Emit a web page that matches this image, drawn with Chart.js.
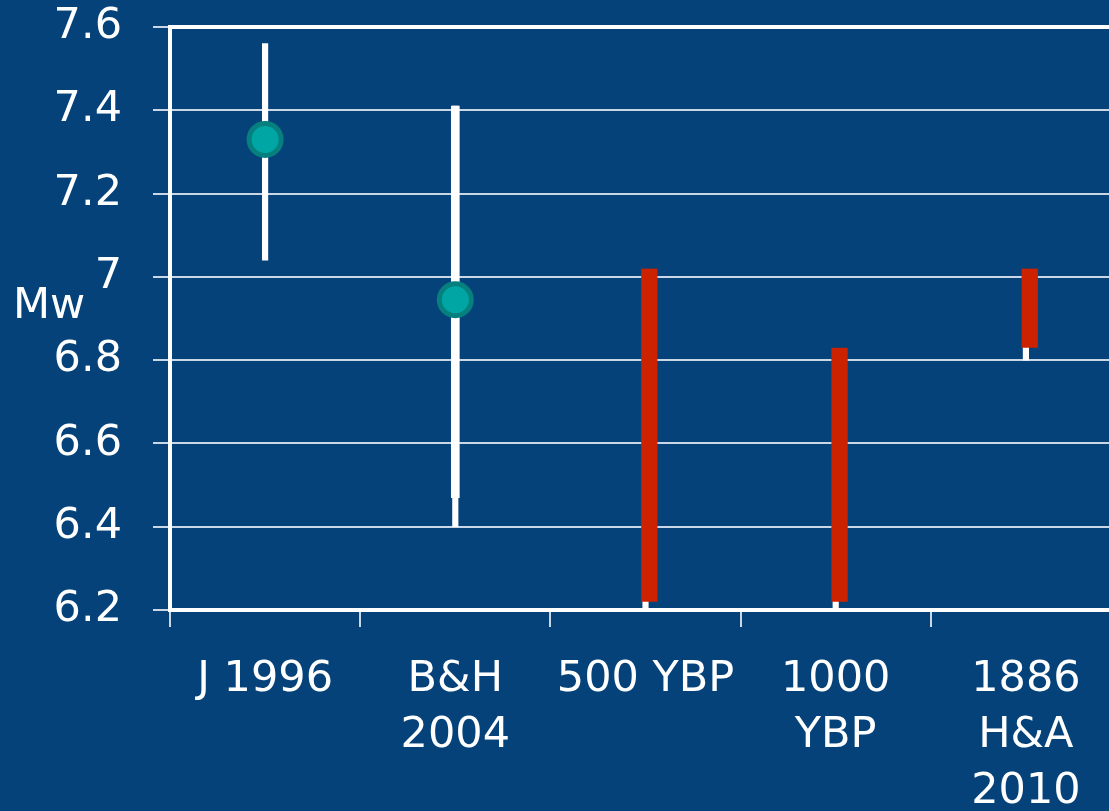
<!DOCTYPE html>
<html>
<head>
<meta charset="utf-8">
<script src="https://cdn.jsdelivr.net/npm/chart.js@4.4.1/dist/chart.umd.min.js"></script>
<style>
  html, body { margin: 0; padding: 0; background: #044279; overflow: hidden; }
  #wrap { position: relative; width: 1109px; height: 811px; overflow: hidden; }
  #mwChart { position: absolute; left: 0; top: 0; }
  #mwLabel {
    position: absolute; left: 13px; top: 282px;
    font-family: "DejaVu Sans", sans-serif; font-size: 43px; line-height: 43px;
    color: #ffffff;
  }
</style>
</head>
<body>
<div id="wrap">
  <canvas id="mwChart" width="1121" height="811"></canvas>
  <div id="mwLabel">Mw</div>
</div>
<script>
// magnitude estimates per study / event
const categories = [["J 1996"], ["B&H", "2004"], ["500 YBP"], ["1000", "YBP"], ["1886", "H&A", "2010"]];
const bestEstimate = [7.33, 6.945, null, null, null];
// thin white error bars (low, high)
const rangeThin = [[7.04, 7.56], [6.40, 7.41], [6.20, 7.00], [6.20, 6.80], [6.80, 7.00]];
// thicker white part of the B&H range
const rangeThick = [null, [6.47, 7.41], null, null, null];
// red paleo ranges
const paleoRange = [null, null, [6.22, 7.02], [6.22, 6.83], [6.83, 7.02]];
const yMin = 6.2;
const yMax = 7.6;
const yStep = 0.2;

const ctx = document.getElementById("mwChart").getContext('2d');
const gridColor = "#c9d7e6";
const fontFamily = "'DejaVu Sans', sans-serif";

// white frame line on top of the plot area
const topLine = {
  id: "topLine",
  afterDraw(chart) {
    const a = chart.chartArea;
    const c = chart.ctx;
    c.save();
    c.strokeStyle = "#ffffff";
    c.lineWidth = 4;
    c.beginPath();
    c.moveTo(a.left - 2, a.top);
    c.lineTo(a.right, a.top);
    c.stroke();
    c.restore();
  }
};

const chartData = {
  labels: categories,
  datasets: [
    {
      type: "line",
      label: "estimate",
      data: bestEstimate,
      showLine: false,
      pointRadius: 16,
      pointBorderWidth: 5,
      pointBackgroundColor: "#00a6a4",
      pointBorderColor: "#05807f",
      order: 0,
    },
    {
      type: "bar",
      label: "paleo",
      data: paleoRange,
      backgroundColor: "#cc2200",
      // transparent left border shifts the red bar a bit to the right
      borderColor: "rgba(0,0,0,0)",
      borderWidth: { left: 8, right: 0, top: 0, bottom: 0 },
      borderSkipped: false,
      barThickness: 24,
      grouped: false,
      order: 1,
    },
    {
      type: "bar",
      label: "thick",
      data: rangeThick,
      backgroundColor: "#ffffff",
      barThickness: 8,
      grouped: false,
      order: 2,
    },
    {
      type: "bar",
      label: "thin",
      data: rangeThin,
      backgroundColor: "#ffffff",
      barThickness: 5.5,
      grouped: false,
      order: 3,
    },
  ],
};

const chartConfig = {
  data: chartData,
  plugins: [topLine],
  options: {
    responsive: false,
    animation: false,
    devicePixelRatio: 1,
    layout: { autoPadding: false, padding: { top: 27, left: 0, right: 0, bottom: 0 } },
    plugins: {
      legend: { display: false },
      tooltip: { enabled: false },
    },
    scales: {
      x: {
        type: "category",
        offset: true,
        grid: {
          offset: true,
          drawOnChartArea: false,
          tickLength: 17,
          color: gridColor,
          lineWidth: 2,
        },
        border: { color: "#ffffff", width: 4 },
        ticks: {
          color: "#ffffff",
          padding: 25,
          maxRotation: 0,
          autoSkip: false,
          font: { family: fontFamily, size: 43, lineHeight: 1.3 },
        },
        afterFit(scale) {
          scale.height = 201;
          scale.paddingLeft = 0;
          scale.paddingRight = 0;
        },
      },
      y: {
        min: yMin,
        max: yMax,
        ticks: {
          stepSize: yStep,
          color: "#ffffff",
          padding: 31,
          font: { family: fontFamily, size: 43 },
          callback: (value) => String(Number(value.toFixed(1))),
        },
        grid: {
          tickLength: 17,
          color: gridColor,
          lineWidth: 2,
        },
        border: { color: "#ffffff", width: 4 },
        afterFit(scale) {
          scale.width = 170;
          scale.paddingTop = 0;
          scale.paddingBottom = 0;
        },
      },
    },
  },
};

let mwChart = new Chart(ctx, chartConfig);
</script>
</body>
</html>
